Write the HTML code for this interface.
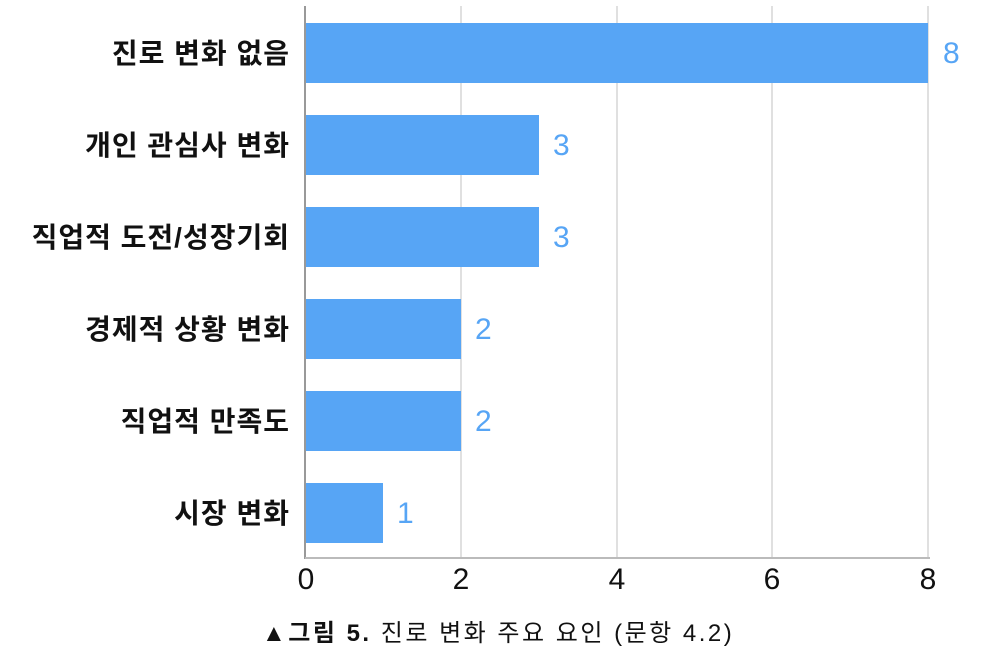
<!DOCTYPE html>
<html><head><meta charset="utf-8"><style>
body{margin:0;background:#fff;}
svg{display:block;}
text{font-family:"Liberation Sans","Noto Sans CJK KR",sans-serif;}
</style></head><body>
<svg width="994" height="665" viewBox="0 0 994 665">
<g stroke="#e0e0e0" stroke-width="2">
<line x1="461" y1="6" x2="461" y2="558"/>
<line x1="617" y1="6" x2="617" y2="558"/>
<line x1="772" y1="6" x2="772" y2="558"/>
<line x1="928" y1="6" x2="928" y2="558"/>
</g>
<g fill="#57a5f5">
<rect x="306" y="23" width="622" height="60"/>
<rect x="306" y="115" width="233" height="60"/>
<rect x="306" y="207" width="233" height="60"/>
<rect x="306" y="299" width="155" height="60"/>
<rect x="306" y="391" width="155" height="60"/>
<rect x="306" y="483" width="77" height="60"/>
</g>
<line x1="305" y1="6" x2="305" y2="559" stroke="#999" stroke-width="2"/>
<line x1="305" y1="558" x2="930" y2="558" stroke="#bbb" stroke-width="2"/>
<g font-size="30" fill="#57a5f5">
<text x="943" y="63">8</text>
<text x="553" y="155">3</text>
<text x="553" y="247">3</text>
<text x="475" y="339">2</text>
<text x="475" y="431">2</text>
<text x="397" y="523">1</text>
</g>
<g font-size="28" font-weight="bold" fill="#111" text-anchor="end" letter-spacing="1">
<text x="290" y="63">진로 변화 없음</text>
<text x="290" y="155">개인 관심사 변화</text>
<text x="290" y="247">직업적 도전/성장기회</text>
<text x="290" y="339">경제적 상황 변화</text>
<text x="290" y="431">직업적 만족도</text>
<text x="290" y="523">시장 변화</text>
</g>
<g font-size="30" fill="#111" text-anchor="middle">
<text x="306" y="589">0</text>
<text x="461" y="589">2</text>
<text x="617" y="589">4</text>
<text x="772" y="589">6</text>
<text x="928" y="589">8</text>
</g>
<text x="262" y="641" font-size="24" fill="#111" letter-spacing="2.5"><tspan font-weight="bold">▲그림 5.</tspan> 진로 변화 주요 요인 (문항 4.2)</text>
</svg>
</body></html>
